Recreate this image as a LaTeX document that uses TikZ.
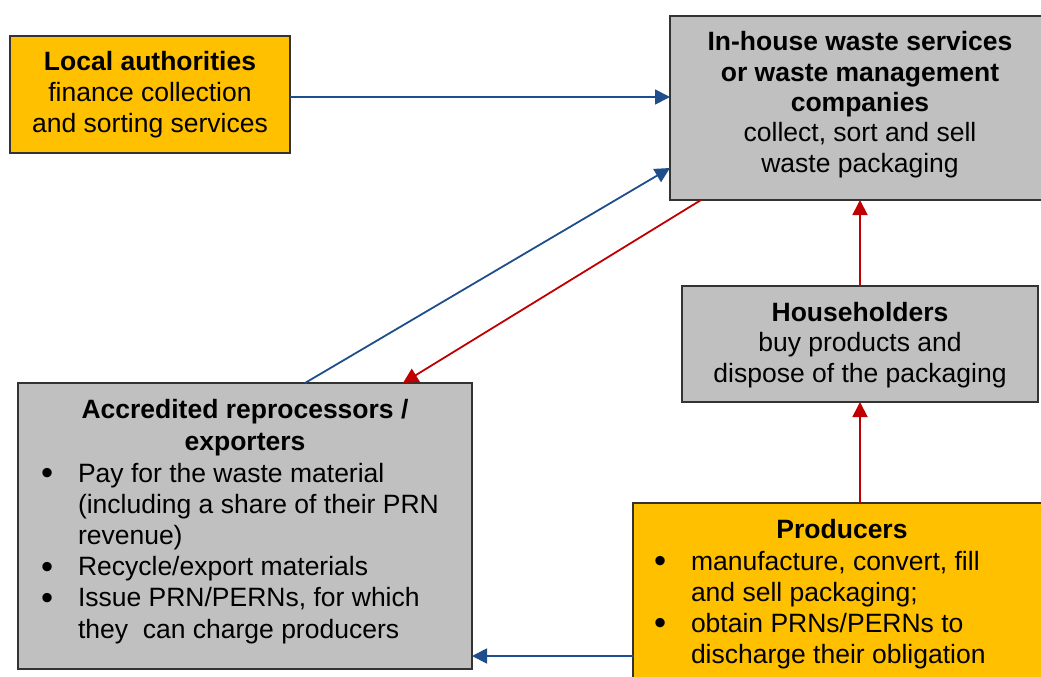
\documentclass[tikz,border=0pt]{standalone}
\usepackage{fontspec}
\setmainfont{Liberation Sans}
\usetikzlibrary{arrows.meta,calc}
\definecolor{boxorange}{HTML}{FFC000}
\definecolor{boxgrey}{HTML}{C0C0C0}
\definecolor{linkblue}{HTML}{1F4E8C}
\definecolor{linkred}{HTML}{C00000}
\newcommand\bitem{\makebox[37pt][l]{\raisebox{-2.5pt}{\scalebox{1.3}{\textbullet}}}}
\newcommand\bind{\hspace*{37pt}}
\tikzset{
  box/.style={draw=black!80, line width=1.5pt, inner sep=0pt, outer sep=0pt, anchor=north west},
  orangebox/.style={box, fill=boxorange},
  greybox/.style={box, fill=boxgrey},
  txt/.style={inner sep=0pt, outer sep=0pt, align=center, anchor=base},
  ltxt/.style={inner sep=0pt, outer sep=0pt, align=left, anchor=base west},
  bluelink/.style={draw=linkblue, line width=1.8pt, -{Triangle[length=15pt,width=15pt]}},
  redlink/.style={draw=linkred, line width=1.8pt, -{Triangle[length=15pt,width=15pt]}},
}
\begin{document}
\begin{tikzpicture}[x=1pt,y=-1pt]
\useasboundingbox (0,0) rectangle (1041,677);
\clip (0,0) rectangle (1041,677);
% boxes
\node[orangebox, minimum width=280pt, minimum height=117pt] (la) at (10,36) {};
\node[greybox, minimum width=382pt, minimum height=184pt] (ih) at (670,16) {};
\node[greybox, minimum width=356pt, minimum height=116pt] (hh) at (682,286) {};
\node[greybox, minimum width=454pt, minimum height=286pt] (acc) at (18,383) {};
\node[orangebox, minimum width=419pt, minimum height=187pt] (pr) at (633,503) {};
% texts (anchor base = baseline of the last line)
\node[txt, font=\fontsize{26.5}{31}\selectfont] (latext) at (150,132)
  {\textbf{Local authorities}\\finance collection\\and sorting services};
\node[txt, font=\fontsize{26.5}{30.3}\selectfont] (ihtext) at (860,172)
  {\textbf{In-house waste services}\\\textbf{or waste management}\\\textbf{companies}\\collect, sort and sell\\waste packaging};
\node[txt, font=\fontsize{26.5}{30.5}\selectfont] (hhtext) at (860,382)
  {\textbf{Householders}\\buy products and\\dispose of the packaging};
\node[txt, font=\fontsize{26.5}{32}\selectfont] (acctitle) at (245,450)
  {\textbf{Accredited reprocessors /}\\\textbf{exporters}};
\node[ltxt, font=\fontsize{26.5}{31.2}\selectfont] (acclist) at (41,638)
  {\bitem Pay for the waste material\\\bind(including a share of their PRN\\\bind revenue)\\\bitem Recycle/export materials\\\bitem Issue PRN/PERNs, for which\\\bind they\ \ can charge producers};
\node[txt, font=\fontsize{26.5}{31}\selectfont] (prtitle) at (842,538)
  {\textbf{Producers}};
\node[ltxt, font=\fontsize{26.5}{31}\selectfont] (prlist) at (654,663)
  {\bitem manufacture, convert, fill\\\bind and sell packaging;\\\bitem obtain PRNs/PERNs to\\\bind discharge their obligation};
% connectors
\draw[bluelink] ($(la.east)+(0,2.5)$) -- ($(la.east -| ih.west)+(0,2.5)$);
\draw[bluelink] ($(acc.north west)+(287,0)$) -- ($(ih.north west)+(0,152)$);
\draw[redlink] ($(ih.south west)+(31,0)$) -- ($(acc.north west)+(385,0)$);
\draw[redlink] ($(hh.north west)+(178,0)$) -- ($(ih.south west)+(190,0)$);
\draw[redlink] ($(pr.north west)+(227,0)$) -- ($(hh.south west)+(178,0)$);
\draw[bluelink] ($(pr.north west)+(0,153)$) -- ($(acc.north east)+(0,273)$);
\end{tikzpicture}
\end{document}
